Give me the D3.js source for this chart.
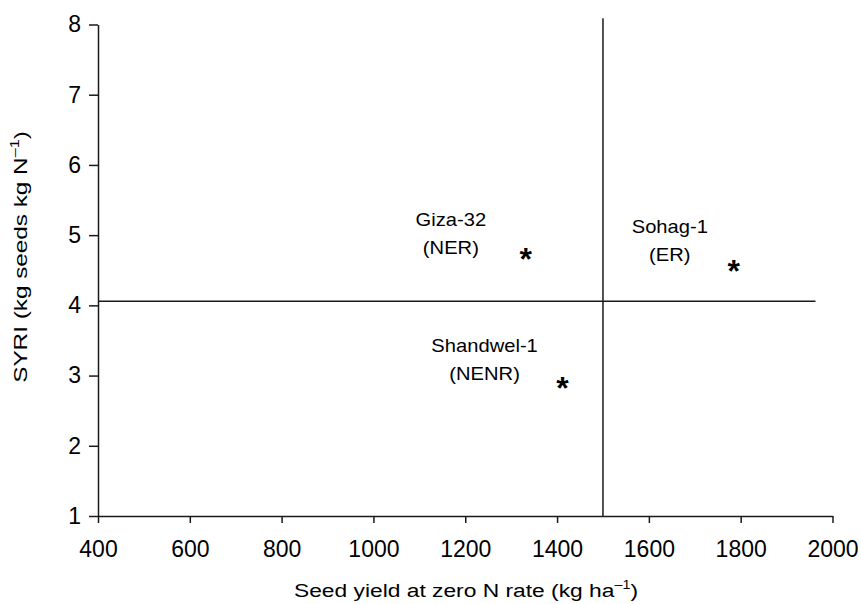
<!DOCTYPE html>
<html>
<head>
<meta charset="utf-8">
<script src="https://cdn.jsdelivr.net/npm/d3@7"></script>
<style>
  html, body { margin: 0; padding: 0; background: #fff; }
  svg { display: block; font-family: "Liberation Sans", Arial, sans-serif; }
</style>
</head>
<body>
<svg id="chart" width="861" height="604"></svg>
<script>
// ---- data ----
const cultivars = ["Giza-32", "Sohag-1", "Shandwel-1"];
const groups = ["(NER)", "(ER)", "(NENR)"];
const seedYield = [1332, 1785, 1412];
const syri = [4.75, 4.58, 2.91];
const meanYield = 1500;
const meanSyri = 4.06;
const xTicks = [400, 600, 800, 1000, 1200, 1400, 1600, 1800, 2000];
const yTicks = [1, 2, 3, 4, 5, 6, 7, 8];
const xDomain = [400, 2000];
const yDomain = [1, 8];
const hLineEnd = 1963;
const vLineTop = 8.09;

// ---- layout ----
const svg = d3.select("#chart");
const x = d3.scaleLinear().domain(xDomain).range([98, 832.5]);
const y = d3.scaleLinear().domain(yDomain).range([516, 24.5]);

const ink = "#1a1a1a";
const fam = '"Liberation Sans", Arial, sans-serif';

// axes
const xAxis = svg.append("g")
  .attr("transform", `translate(0,${y(yDomain[0])})`)
  .call(d3.axisBottom(x).tickValues(xTicks).tickFormat(d3.format("d"))
    .tickSize(7).tickSizeOuter(0).tickPadding(18));
const yAxis = svg.append("g")
  .attr("transform", `translate(${x(xDomain[0])},0)`)
  .call(d3.axisLeft(y).tickValues(yTicks).tickFormat(d3.format("d"))
    .tickSize(9).tickSizeOuter(0).tickPadding(8));

[xAxis, yAxis].forEach(g => {
  g.select(".domain").attr("stroke", ink).attr("stroke-width", 1.5);
  g.selectAll(".tick line").attr("stroke", ink).attr("stroke-width", 1.5);
  g.selectAll(".tick text").attr("fill", "#000")
    .style("font-family", fam)
    .style("font-size", "23px");
});

// reference lines
svg.append("line")
  .attr("x1", x(xDomain[0])).attr("x2", x(hLineEnd))
  .attr("y1", y(meanSyri)).attr("y2", y(meanSyri))
  .attr("stroke", ink).attr("stroke-width", 1.5);
svg.append("line")
  .attr("x1", x(meanYield)).attr("x2", x(meanYield))
  .attr("y1", y(yDomain[0])).attr("y2", y(vLineTop))
  .attr("stroke", ink).attr("stroke-width", 1.5);

// points as asterisks
const pts = cultivars.map((c, i) => ({ name: c, group: groups[i], x: seedYield[i], y: syri[i] }));
const astSize = 32;
svg.selectAll("text.ast").data(pts).enter().append("text")
  .attr("class", "ast")
  .attr("x", d => x(d.x))
  .attr("y", d => y(d.y) + astSize * 0.55)
  .attr("text-anchor", "middle")
  .style("font-size", astSize + "px")
  .style("font-weight", "bold")
  .attr("fill", "#000")
  .text("*");

// labels (offsets from each point, in px)
const labelDx = [-75, -64, -78];
const labelDy = [-27, -32, -30];
const lbl = svg.selectAll("g.lbl").data(pts).enter().append("g")
  .attr("class", "lbl")
  .attr("transform", (d, i) => `translate(${x(d.x) + labelDx[i]},${y(d.y) + labelDy[i]}) scale(1.12,1)`);
lbl.append("text").attr("text-anchor", "middle").style("font-size", "18px").attr("fill", "#000")
  .text(d => d.name);
lbl.append("text").attr("text-anchor", "middle").attr("y", 28).style("font-size", "18px").attr("fill", "#000")
  .text(d => d.group);

// axis titles
const xt = svg.append("g").attr("transform", "translate(466,597) scale(1.2,1)")
  .append("text")
  .attr("text-anchor", "middle")
  .style("font-size", "19px").attr("fill", "#000");
xt.append("tspan").text("Seed yield at zero N rate (kg ha");
xt.append("tspan").attr("dy", -8).style("font-size", "12px").text("\u2013" + "1");
xt.append("tspan").attr("dy", 8).text(")");

const yt = svg.append("g")
  .attr("transform", `translate(27,257) rotate(-90) scale(1.35,1)`)
  .append("text")
  .attr("text-anchor", "middle")
  .style("font-size", "18px").attr("fill", "#000");
yt.append("tspan").text("SYRI (kg seeds kg N");
yt.append("tspan").attr("dy", -8).style("font-size", "12px").text("\u2013" + "1");
yt.append("tspan").attr("dy", 8).text(")");
</script>
</body>
</html>
